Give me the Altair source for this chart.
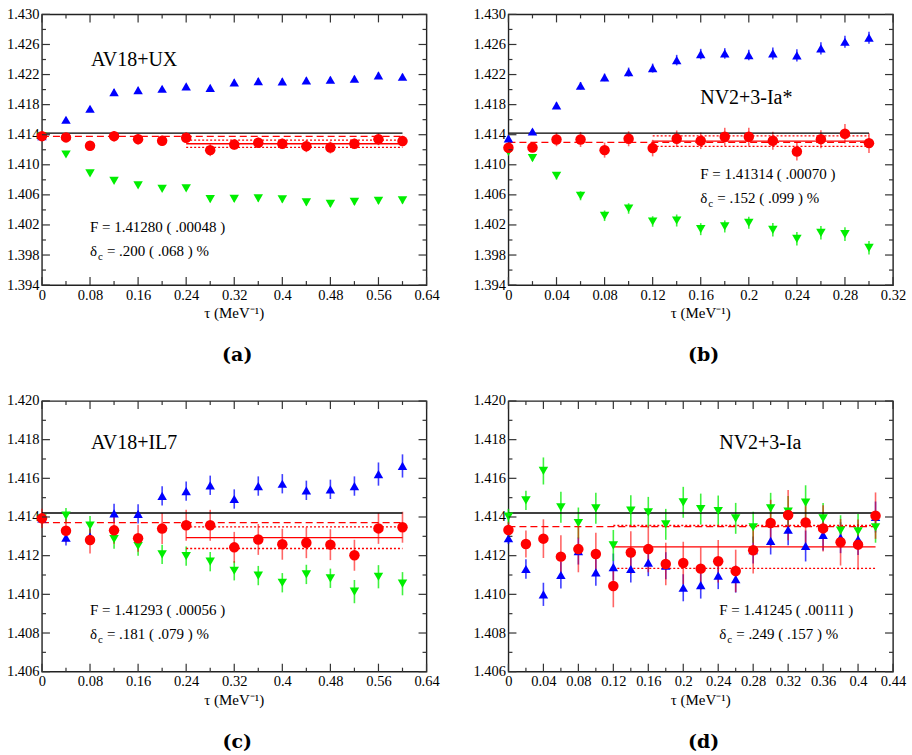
import altair as alt
import pandas as pd

FONT = "Liberation Serif"
W, H = 385, 271

# ---------------- data ----------------
# panel (a) AV18+UX
tau_a = [0.0, 0.04, 0.08, 0.12, 0.16, 0.20, 0.24, 0.28, 0.32, 0.36, 0.40, 0.44, 0.48, 0.52, 0.56, 0.60]
blue_a = [1.41380, 1.41599, 1.41745, 1.41967, 1.41993, 1.42011, 1.42042, 1.42024, 1.42095, 1.42113, 1.42109, 1.42122, 1.42131, 1.42144, 1.42188, 1.42171]
blue_a_err = [0.0003, 0.0003, 0.0003, 0.0004, 0.0003, 0.0003, 0.0003, 0.0003, 0.0004, 0.0004, 0.0004, 0.0004, 0.0004, 0.0004, 0.0004, 0.0004]
red_a = [1.41381, 1.41364, 1.41253, 1.41381, 1.41341, 1.41319, 1.41359, 1.41195, 1.41270, 1.41293, 1.41279, 1.41248, 1.41230, 1.41279, 1.41341, 1.41315]
red_a_err = [0.0004, 0.0005, 0.0006, 0.0007, 0.0007, 0.0007, 0.0007, 0.0008, 0.0007, 0.0007, 0.0007, 0.0008, 0.0008, 0.0007, 0.0008, 0.0007]
green_a = [1.41380, 1.41137, 1.40885, 1.40787, 1.40725, 1.40681, 1.40685, 1.40543, 1.40548, 1.40552, 1.40539, 1.40499, 1.40481, 1.40508, 1.40521, 1.40526]
green_a_err = [0.0003, 0.0003, 0.0003, 0.0003, 0.0003, 0.0003, 0.0003, 0.0004, 0.0004, 0.0004, 0.0004, 0.0004, 0.0004, 0.0004, 0.0004, 0.0004]

# panel (b) NV2+3-Ia*
tau_b = [0.0, 0.02, 0.04, 0.06, 0.08, 0.10, 0.12, 0.14, 0.16, 0.18, 0.20, 0.22, 0.24, 0.26, 0.28, 0.30]
blue_b = [1.41350, 1.41443, 1.41789, 1.42051, 1.42162, 1.42233, 1.42286, 1.42392, 1.42472, 1.42481, 1.42459, 1.42481, 1.42455, 1.42548, 1.42636, 1.42690]
blue_b_err = [0.0003, 0.0003, 0.0004, 0.0005, 0.0005, 0.0006, 0.0006, 0.0007, 0.0007, 0.0007, 0.0007, 0.0008, 0.0008, 0.0008, 0.0008, 0.0008]
red_b = [1.41226, 1.41230, 1.41337, 1.41337, 1.41195, 1.41346, 1.41222, 1.41346, 1.41319, 1.41372, 1.41372, 1.41319, 1.41177, 1.41341, 1.41412, 1.41288]
red_b_err = [0.0005, 0.0006, 0.0009, 0.0010, 0.0010, 0.0010, 0.0011, 0.0011, 0.0011, 0.0012, 0.0012, 0.0012, 0.0012, 0.0012, 0.0013, 0.0013]
green_b = [1.41173, 1.41089, 1.40854, 1.40588, 1.40322, 1.40419, 1.40246, 1.40259, 1.40144, 1.40180, 1.40228, 1.40135, 1.40016, 1.40095, 1.40078, 1.39896]
green_b_err = [0.0003, 0.0004, 0.0005, 0.0006, 0.0007, 0.0007, 0.0007, 0.0008, 0.0008, 0.0008, 0.0008, 0.0009, 0.0009, 0.0009, 0.0009, 0.0009]

# panel (c) AV18+IL7
tau_c = [0.0, 0.04, 0.08, 0.12, 0.16, 0.20, 0.24, 0.28, 0.32, 0.36, 0.40, 0.44, 0.48, 0.52, 0.56, 0.60]
blue_c = [1.41393, 1.41293, 1.41298, 1.41419, 1.41416, 1.41509, 1.41534, 1.41564, 1.41493, 1.41560, 1.41572, 1.41538, 1.41543, 1.41560, 1.41622, 1.41664]
blue_c_err = [0.0002, 0.0004, 0.0004, 0.0005, 0.0005, 0.0005, 0.0005, 0.0005, 0.0005, 0.0005, 0.0005, 0.0005, 0.0005, 0.0005, 0.0006, 0.0006]
red_c = [1.41393, 1.41329, 1.41281, 1.41331, 1.41290, 1.41340, 1.41357, 1.41357, 1.41243, 1.41284, 1.41259, 1.41267, 1.41257, 1.41202, 1.41341, 1.41347]
red_c_err = [0.0005, 0.0006, 0.0007, 0.0007, 0.0007, 0.0008, 0.0008, 0.0008, 0.0008, 0.0008, 0.0008, 0.0008, 0.0008, 0.0008, 0.0008, 0.0008]
green_c = [1.41393, 1.41407, 1.41355, 1.41286, 1.41250, 1.41207, 1.41198, 1.41169, 1.41122, 1.41097, 1.41060, 1.41103, 1.41083, 1.41014, 1.41091, 1.41055]
green_c_err = [0.0002, 0.0004, 0.0005, 0.0005, 0.0005, 0.0005, 0.0005, 0.0005, 0.0005, 0.0005, 0.0005, 0.0005, 0.0005, 0.0006, 0.0006, 0.0006]

# panel (d) NV2+3-Ia
tau_d = [0.0, 0.02, 0.04, 0.06, 0.08, 0.10, 0.12, 0.14, 0.16, 0.18, 0.20, 0.22, 0.24, 0.26, 0.28, 0.30, 0.32, 0.34, 0.36, 0.38, 0.40, 0.42]
blue_d = [1.41290, 1.41131, 1.41000, 1.41100, 1.41224, 1.41114, 1.41141, 1.41131, 1.41164, 1.41148, 1.41034, 1.41048, 1.41097, 1.41079, 1.41229, 1.41276, 1.41334, 1.41250, 1.41307, 1.41293, 1.41284, 1.41400]
blue_d_err = [0.0003, 0.0005, 0.0006, 0.0007, 0.0007, 0.0007, 0.0007, 0.0007, 0.0007, 0.0007, 0.0007, 0.0007, 0.0007, 0.0007, 0.0007, 0.0007, 0.0008, 0.0008, 0.0008, 0.0008, 0.0008, 0.0008]
red_d = [1.41333, 1.41260, 1.41288, 1.41195, 1.41234, 1.41209, 1.41043, 1.41216, 1.41234, 1.41157, 1.41162, 1.41133, 1.41171, 1.41121, 1.41228, 1.41369, 1.41410, 1.41372, 1.41341, 1.41269, 1.41257, 1.41407]
red_d_err = [0.0004, 0.0007, 0.0010, 0.0011, 0.0012, 0.0011, 0.0011, 0.0011, 0.0012, 0.0011, 0.0011, 0.0011, 0.0011, 0.0011, 0.0012, 0.0012, 0.0013, 0.0012, 0.0012, 0.0012, 0.0013, 0.0012]
green_d = [1.41402, 1.41486, 1.41638, 1.41450, 1.41369, 1.41445, 1.41253, 1.41433, 1.41424, 1.41362, 1.41476, 1.41441, 1.41431, 1.41393, 1.41347, 1.41445, 1.41428, 1.41474, 1.41393, 1.41329, 1.41326, 1.41347]
green_d_err = [0.0004, 0.0005, 0.0007, 0.0008, 0.0008, 0.0008, 0.0008, 0.0008, 0.0008, 0.0008, 0.0008, 0.0008, 0.0008, 0.0008, 0.0008, 0.0008, 0.0008, 0.0009, 0.0008, 0.0008, 0.0009, 0.0008]

# reference lines: (x1, x2, y)
black_a = [(0.0, 0.60, 1.41421)]
dashed_a = [(0.0, 0.60, 1.41377)]
fit_a = [(0.24, 0.60, 1.41280)]
band_a = [(0.24, 0.60, 1.41328), (0.24, 0.60, 1.41232)]

black_b = [(0.0, 0.30, 1.41421)]
dashed_b = [(0.0, 0.30, 1.41297)]
fit_b = [(0.12, 0.30, 1.41314)]
band_b = [(0.12, 0.30, 1.41384), (0.12, 0.30, 1.41244)]

black_c = [(0.0, 0.60, 1.41421)]
dashed_c = [(0.0, 0.60, 1.41371)]
fit_c = [(0.24, 0.60, 1.41293)]
band_c = [(0.24, 0.60, 1.41349), (0.24, 0.60, 1.41237)]

black_d = [(0.0, 0.42, 1.41421)]
dashed_d = [(0.0, 0.42, 1.41350)]
fit_d = [(0.12, 0.42, 1.41245)]
band_d = [(0.12, 0.42, 1.41356), (0.12, 0.42, 1.41134)]

# axes
xmaj_a = [0, 0.08, 0.16, 0.24, 0.32, 0.40, 0.48, 0.56, 0.64]
xmin_a = [0.04, 0.12, 0.20, 0.28, 0.36, 0.44, 0.52, 0.60]
xmaj_b = [0, 0.04, 0.08, 0.12, 0.16, 0.20, 0.24, 0.28, 0.32]
xmin_b = [0.02, 0.06, 0.10, 0.14, 0.18, 0.22, 0.26, 0.30]
xmaj_d = [0, 0.04, 0.08, 0.12, 0.16, 0.20, 0.24, 0.28, 0.32, 0.36, 0.40, 0.44]
xmin_d = [0.02, 0.06, 0.10, 0.14, 0.18, 0.22, 0.26, 0.30, 0.34, 0.38, 0.42]
ymaj_ab = [1.394, 1.398, 1.402, 1.406, 1.410, 1.414, 1.418, 1.422, 1.426, 1.430]
ymin_ab = [1.396, 1.400, 1.404, 1.408, 1.412, 1.416, 1.420, 1.424, 1.428]
ymaj_cd = [1.406, 1.408, 1.410, 1.412, 1.414, 1.416, 1.418, 1.420]
ymin_cd = [1.407, 1.409, 1.411, 1.413, 1.415, 1.417, 1.419]

BLUE, RED, GREEN = "#0000ff", "#ff0000", "#00ee00"


def panel(tau, blue, blue_err, red, red_err, green, green_err,
          black, dashed, fit, band,
          xdom, xmaj, xmin, ydom, ymaj, ymin,
          name, name_xy, F_text, d_text, ann_x, ann_y, letter):
    xs = alt.Scale(domain=xdom, nice=False, zero=False)
    ys = alt.Scale(domain=ydom, nice=False, zero=False)
    xaxis = alt.Axis(values=xmaj, format=".2~f", ticks=False, domain=False, grid=False,
                     labelFont=FONT, labelFontSize=14.5, labelColor="black", labelPadding=3,
                     labelFlush=False, labelOverlap=False, title=None)
    yaxis = alt.Axis(values=ymaj, format=".3f", ticks=False, domain=False, grid=False,
                     labelFont=FONT, labelFontSize=14.5, labelColor="black", labelPadding=3,
                     labelFlush=False, labelOverlap=False, title=None)

    def X(f):
        return alt.X(f, scale=xs, axis=xaxis)

    def Y(f):
        return alt.Y(f, scale=ys, axis=yaxis)

    def sdf(vals, errs):
        return pd.DataFrame({"tau": tau, "v": vals,
                             "lo": [v - e for v, e in zip(vals, errs)],
                             "hi": [v + e for v, e in zip(vals, errs)]})

    layers = []
    for vals, errs, col, op in [(blue, blue_err, BLUE, 0.75), (green, green_err, GREEN, 0.75), (red, red_err, RED, 0.6)]:
        df = sdf(vals, errs)
        layers.append(alt.Chart(df).mark_rule(strokeWidth=1.6, opacity=op).encode(
            x=X("tau:Q"), y=Y("lo:Q"), y2="hi:Q", color=alt.value(col)))

    def ldf(rows):
        return pd.DataFrame({"x1": [r[0] for r in rows], "x2": [r[1] for r in rows], "y": [r[2] for r in rows]})

    def line_layer(rows, col, dash, sw):
        kw = dict(strokeWidth=sw)
        if dash:
            kw["strokeDash"] = dash
        return alt.Chart(ldf(rows)).mark_rule(**kw).encode(
            x=X("x1:Q"), x2="x2:Q", y=Y("y:Q"), color=alt.value(col))

    layers.append(line_layer(black, "black", None, 1.4))
    layers.append(line_layer(dashed, RED, [7, 4], 1.3))
    layers.append(line_layer(fit, RED, None, 1.3))
    layers.append(line_layer(band, RED, [2, 2], 1.3))

    for vals, errs, col, shape in [(blue, blue_err, BLUE, "triangle-up"), (green, green_err, GREEN, "triangle-down"), (red, red_err, RED, "circle")]:
        df = sdf(vals, errs)
        layers.append(alt.Chart(df).mark_point(filled=True, opacity=1, shape=shape,
                                               size=110 if shape == "circle" else 90).encode(
            x=X("tau:Q"), y=Y("v:Q"), color=alt.value(col)))

    # inward ticks on all four sides
    TC = "#333333"
    for vals, ln in [(xmaj, 8), (xmin, 4)]:
        tdf = pd.DataFrame({"t": vals})
        layers.append(alt.Chart(tdf).mark_rule(strokeWidth=1.2, color=TC).encode(
            x=X("t:Q"), y=alt.value(H), y2=alt.value(H - ln)))
        layers.append(alt.Chart(tdf).mark_rule(strokeWidth=1.2, color=TC).encode(
            x=X("t:Q"), y=alt.value(0), y2=alt.value(ln)))
    for vals, ln in [(ymaj, 8), (ymin, 4)]:
        tdf = pd.DataFrame({"t": vals})
        layers.append(alt.Chart(tdf).mark_rule(strokeWidth=1.2, color=TC).encode(
            y=Y("t:Q"), x=alt.value(0), x2=alt.value(ln)))
        layers.append(alt.Chart(tdf).mark_rule(strokeWidth=1.2, color=TC).encode(
            y=Y("t:Q"), x=alt.value(W), x2=alt.value(W - ln)))

    def txt(s, x, y, size, align="left", weight="normal", font=FONT):
        return alt.Chart(pd.DataFrame({"s": [s]})).mark_text(
            align=align, baseline="alphabetic", font=font, fontSize=size,
            fontWeight=weight, color="black").encode(text="s:N", x=alt.value(x), y=alt.value(y))

    layers.append(txt(name, name_xy[0], name_xy[1], 20))
    layers.append(txt(F_text, ann_x, ann_y, 15))
    layers.append(txt("δ", ann_x, ann_y + 24, 15))
    layers.append(txt("c", ann_x + 8, ann_y + 28, 11))
    layers.append(txt(d_text, ann_x + 17, ann_y + 24, 15))
    layers.append(txt("τ (MeV⁻¹)", W / 2, H + 33, 15, align="center"))
    layers.append(txt(letter, W / 2 + 3, H + 76, 19, align="center", weight="bold",
                      font="DejaVu Serif"))

    return alt.layer(*layers).properties(width=W, height=H)


pa = panel(tau_a, blue_a, blue_a_err, red_a, red_a_err, green_a, green_a_err,
           black_a, dashed_a, fit_a, band_a,
           [0, 0.64], xmaj_a, xmin_a, [1.394, 1.430], ymaj_ab, ymin_ab,
           "AV18+UX", (49, 52), "F = 1.41280 ( .00048 )", "= .200 ( .068 ) %", 48, 218, "(a)")
pb = panel(tau_b, blue_b, blue_b_err, red_b, red_b_err, green_b, green_b_err,
           black_b, dashed_b, fit_b, band_b,
           [0, 0.32], xmaj_b, xmin_b, [1.394, 1.430], ymaj_ab, ymin_ab,
           "NV2+3-Ia*", (192, 90), "F = 1.41314 ( .00070 )", "= .152 ( .099 ) %", 192, 165, "(b)")
pc = panel(tau_c, blue_c, blue_c_err, red_c, red_c_err, green_c, green_c_err,
           black_c, dashed_c, fit_c, band_c,
           [0, 0.64], xmaj_a, xmin_a, [1.406, 1.420], ymaj_cd, ymin_cd,
           "AV18+IL7", (49, 48), "F = 1.41293 ( .00056 )", "= .181 ( .079 ) %", 48, 214, "(c)")
pd_ = panel(tau_d, blue_d, blue_d_err, red_d, red_d_err, green_d, green_d_err,
            black_d, dashed_d, fit_d, band_d,
            [0, 0.44], xmaj_d, xmin_d, [1.406, 1.420], ymaj_cd, ymin_cd,
            "NV2+3-Ia", (211, 48), "F = 1.41245 ( .00111 )", "= .249 ( .157 ) %", 211, 214, "(d)")

chart = alt.concat(pa, pb, pc, pd_, columns=2, spacing={"row": 116, "column": 82},
                   bounds="flush").configure_view(stroke="#222222", strokeWidth=1.4).properties(
    background="white", padding=5)

chart.save("out.html", embed_options={"renderer": "svg", "actions": False})
